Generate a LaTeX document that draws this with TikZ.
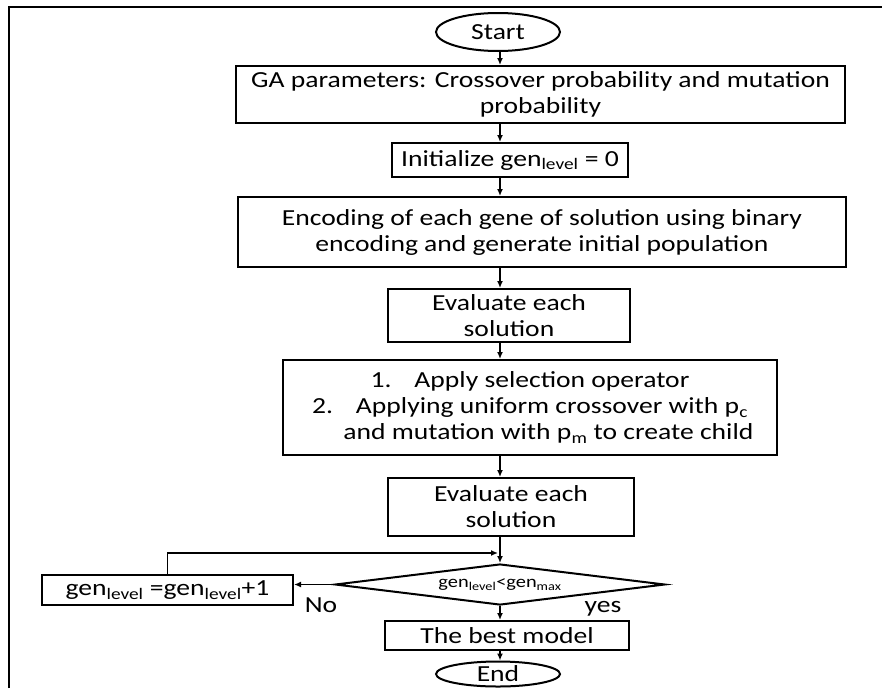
\documentclass[tikz,border=0pt]{standalone}
\usepackage{fontspec}
\setmainfont{Carlito}[FakeStretch=1.2]
\usetikzlibrary{shapes.geometric,arrows.meta}
\begin{document}
\begin{tikzpicture}[x=1pt,y=-1pt,
  txt/.style={font=\fontsize{23}{26}\selectfont},
  box/.style={draw,line width=2pt,rectangle,inner sep=0pt,align=center,txt},
  term/.style={draw,line width=2pt,ellipse,inner sep=0pt,txt},
  arr/.style={line width=1.4pt,-{Latex[length=7pt,width=6pt]}},
  lbl/.style={inner sep=0pt,txt}]
\useasboundingbox (0,0) rectangle (882,688);
\clip (0,0) rectangle (882,688);
\draw[line width=1.2pt] (9,688) -- (9,7) -- (882,7);
\coordinate (ax) at (500,0);
\node[term, minimum width=124pt, minimum height=38pt] (start) at (498,32) {Start};
\node[box, minimum width=609pt, minimum height=57pt] (ga) at (540.5,94.5) {GA parameters: Crossover probability and mutation\\probability};
\node[box, minimum width=236pt, minimum height=34pt] (init) at (510,160) {Initialize gen\textsubscript{level} = 0};
\node[box, minimum width=608pt, minimum height=70pt] (enc) at (542,232) {Encoding of each gene of solution using binary\\encoding and generate initial population};
\node[box, minimum width=242pt, minimum height=53pt] (eval1) at (509,315.5) {Evaluate each\\solution};
\node[box, minimum width=494pt, minimum height=95pt] (apply) at (530,407.5) {1.\quad Apply selection operator\\2.\quad Applying uniform crossover with p\textsubscript{c}\\\hspace*{1.6em}and mutation with p\textsubscript{m} to create child};
\node[box, minimum width=246pt, minimum height=58pt] (eval2) at (511,507) {Evaluate each\\solution};
\node[draw, diamond, aspect=8, line width=2pt, inner sep=0pt, minimum width=330pt, minimum height=41pt, font=\fontsize{17}{19}\selectfont] (dec) at (500,584.5) {gen\textsubscript{level}<gen\textsubscript{max}};
\node[box, minimum width=251pt, minimum height=30pt] (gen) at (167.5,590) {gen\textsubscript{level} =gen\textsubscript{level}+1};
\node[box, minimum width=244pt, minimum height=29pt] (best) at (507,635.5) {The best model};
\node[term, minimum width=124pt, minimum height=25pt] (end) at (498,674) {End};
\node[lbl] (no) at (321,605) {No};
\node[lbl] (yes) at (603,609) {yes};
\coordinate (lp) at (498,553);
\draw[arr] (start.south -| ax) -- (ga.north -| ax);
\draw[arr] (ga.south -| ax) -- (init.north -| ax);
\draw[arr] (init.south -| ax) -- (enc.north -| ax);
\draw[arr] (enc.south -| ax) -- (eval1.north -| ax);
\draw[arr] (eval1.south -| ax) -- (apply.north -| ax);
\draw[arr] (apply.south -| ax) -- (eval2.north -| ax);
\draw[arr] (eval2.south -| ax) -- (dec.north);
\draw[arr] (dec.south) -- (best.north -| dec.south);
\draw[arr] (best.south -| ax) -- (end.north -| ax);
\draw[arr] (dec.west) -- (dec.west -| gen.east);
\draw[arr] (gen.north) |- (lp);
\end{tikzpicture}
\end{document}
